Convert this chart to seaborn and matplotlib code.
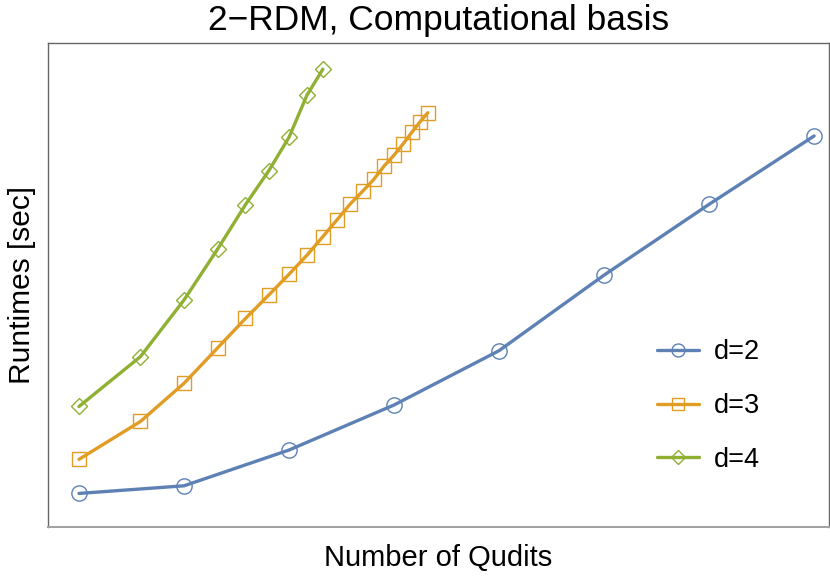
import matplotlib
matplotlib.use("Agg")
import matplotlib.pyplot as plt
import seaborn as sns
import pandas as pd
from matplotlib.ticker import NullLocator

# Number of qudits per series
n_d2 = [2, 4, 8, 16, 32, 64, 128, 256]
n_d3 = list(range(2, 21))
n_d4 = list(range(2, 11))

# Runtimes [sec] (estimated, no ticks on the original)
t_d2 = [0.00099, 0.00118, 0.00269, 0.00759, 0.0265, 0.151, 0.771, 3.72]
t_d3 = [0.00217, 0.00519, 0.0125, 0.0284, 0.0556, 0.0955, 0.154, 0.238,
        0.366, 0.543, 0.782, 1.04, 1.37, 1.87, 2.39, 3.11, 4.05, 5.16, 6.35]
t_d4 = [0.00733, 0.0231, 0.0851, 0.277, 0.764, 1.67, 3.61, 9.48, 17.3]

labels = ["d=2", "d=3", "d=4"]
colors = ["#5E81B5", "#E19C24", "#8FB032"]
markers = ["o", "s", "D"]
msizes = [11, 9.5, 8]

df = pd.concat([
    pd.DataFrame({"n": n_d2, "t": t_d2, "d": labels[0]}),
    pd.DataFrame({"n": n_d3, "t": t_d3, "d": labels[1]}),
    pd.DataFrame({"n": n_d4, "t": t_d4, "d": labels[2]}),
], ignore_index=True)

sns.set_theme(style="white")
plt.rcParams["font.family"] = ["Liberation Sans", "DejaVu Sans"]
plt.rcParams["text.color"] = "black"
plt.rcParams["axes.labelcolor"] = "black"

fig = plt.figure(figsize=(8.3, 5.77), dpi=100)
ax = fig.add_axes([48 / 830, 1 - 527 / 577, (829 - 48) / 830, (527 - 43) / 577])

sns.lineplot(data=df, x="n", y="t", hue="d", style="d",
             palette=dict(zip(labels, colors)),
             markers=dict(zip(labels, markers)), dashes=False,
             linewidth=2.4, legend=False, ax=ax, sort=False)

lines = ax.get_lines()[:3]
for line, c, ms in zip(lines, colors, msizes):
    line.set_markerfacecolor("none")
    line.set_markeredgecolor(c)
    line.set_markeredgewidth(1.0)
    line.set_markersize(ms)
    line.set_color(c)

ax.set_xscale("log")
ax.set_yscale("log")
ax.set_xlim(1.63, 282.4)
ax.set_ylim(10 ** -3.34, 10 ** 1.5)
for axis in (ax.xaxis, ax.yaxis):
    axis.set_major_locator(NullLocator())
    axis.set_minor_locator(NullLocator())
ax.tick_params(which="both", length=0, labelbottom=False, labelleft=False)

for side in ["left", "top", "right"]:
    ax.spines[side].set_color("#666666")
    ax.spines[side].set_linewidth(1.0)
ax.spines["bottom"].set_color("#a0a0a0")
ax.spines["bottom"].set_linewidth(1.4)

ax.set_title("2\u2212RDM, Computational basis", fontsize=25.5, pad=9.5, color="black")
ax.set_xlabel("Number of Qudits", fontsize=21, labelpad=12)
ax.set_ylabel("Runtimes [sec]", fontsize=21.5, labelpad=9)

leg = ax.legend(handles=lines, labels=labels, loc="center left",
                bbox_to_anchor=(0.748, 0.25), frameon=False, fontsize=19.5,
                handlelength=1.55, handletextpad=0.55, labelspacing=1.03,
                markerscale=0.85)

fig.savefig("out.png", dpi=100)
